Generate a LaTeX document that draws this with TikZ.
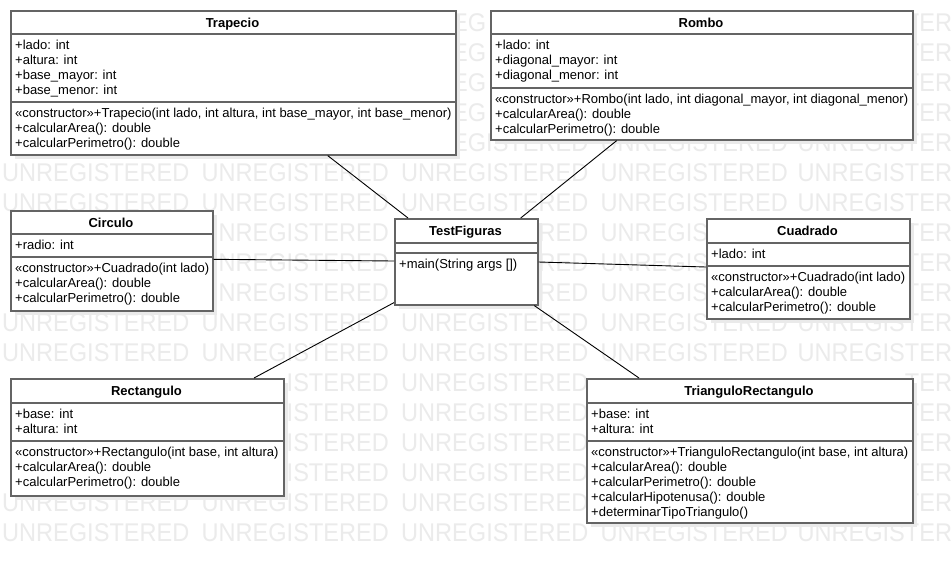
\documentclass[tikz,border=0pt]{standalone}
\usepackage{fontspec}
\setmainfont{Liberation Sans}
\newfontfamily\wmfont{Liberation Sans}[FakeStretch=0.92]
\definecolor{shadowc}{RGB}{234,234,234}
\definecolor{wmc}{RGB}{235,235,235}
\definecolor{borderc}{RGB}{100,100,100}
\tikzset{
  clsnode/.style={draw=borderc, line width=1.6pt, fill=white, rectangle, inner sep=0pt, anchor=north west},
  sepline/.style={draw=borderc, line width=1.6pt},
  clstitle/.style={font=\fontsize{13}{15}\selectfont\bfseries, anchor=base, inner sep=0pt},
  member/.style={font=\fontsize{13}{15}\selectfont, anchor=base west, inner sep=0pt},
  link/.style={draw=black, line width=0.9pt},
  wmtext/.style={font=\wmfont\fontsize{25.6}{25.6}\selectfont, text=wmc, anchor=base west, inner sep=0pt}
}
\newcommand\clsbox[8]{%
  \fill[shadowc] (#2+5,#3+5) rectangle ++(#4,#5);
  \node[clsnode, minimum width=#4pt, minimum height=#5pt] (#1) at (#2,#3) {};
  \draw[sepline] (#1.west |- 0,#7) -- (#1.east |- 0,#7);
  \draw[sepline] (#1.west |- 0,#8) -- (#1.east |- 0,#8);
  \node[clstitle] (#1-title) at (#2+#4/2,#3+17) {#6};
}
\newcommand\clsrows[4]{%
  \foreach \txt [count=\i] in {#4} {
    \node[member, name=#1\i] at (#2,{#3+15*(\i-1)}) {\txt};
  }
}
\newcommand\wmrow[2]{%
  \foreach \xx/\ww [count=\i] in {#2} {
    \node[wmtext, name=wm#1-\i] at (\xx,{31.7+30*#1}) {\ww};
  }
}
\newcommand\wmfull{2/UNREGISTERED,201.5/UNREGISTERED,401/UNREGISTERED,600.5/UNREGISTERED,797.4/UNREGISTER}
\begin{document}
\begin{tikzpicture}[x=1pt,y=-1pt]
\useasboundingbox (0,0) rectangle (952,563);
\fill[white] (0,0) rectangle (952,563);
\begin{scope}
\clip (0,0) rectangle (952,563);
\foreach \k in {0,1,2,3} {\wmrow{\k}{452/EG,904.7/TER}}
\wmrow{4}{452/EGISTERED,600.5/UNREGISTERED,797.4/UNREGISTER}
\foreach \k in {5,6,10,11,17} {\expandafter\wmrow\expandafter{\expandafter\k\expandafter}\expandafter{\wmfull}}
\foreach \k in {7,8,9} {\wmrow{\k}{218.5/NREGISTERED,538.4/RED,600.5/UNREGIS,904.7/TER}}
\foreach \k in {12,13,14,15} {\wmrow{\k}{286.5/ISTERED,401/UNREGISTERED,904.7/TER}}
\wmrow{16}{2/UNREGISTERED,201.5/UNREGISTERED,401/UNREGISTERED,904.7/TER}
\end{scope}

% Trapecio
\clsbox{trap}{10}{10}{445}{144}{Trapecio}{34}{102}
\clsrows{trapa}{15}{49}{{+lado: int},{+altura: int},{+base\_mayor: int},{+base\_menor: int}}
\clsrows{trapm}{15}{117}{{«constructor»+Trapecio(int lado, int altura, int base\_mayor, int base\_menor)},{+calcularArea(): double},{+calcularPerimetro(): double}}

% Rombo
\clsbox{rombo}{490}{10}{422}{129}{Rombo}{34}{88}
\clsrows{romboa}{495}{49}{{+lado: int},{+diagonal\_mayor: int},{+diagonal\_menor: int}}
\clsrows{rombom}{495}{103}{{«constructor»+Rombo(int lado, int diagonal\_mayor, int diagonal\_menor)},{+calcularArea(): double},{+calcularPerimetro(): double}}

% Circulo
\clsbox{circ}{10}{210}{202}{100}{Circulo}{234}{257}
\clsrows{circa}{15}{249}{{+radio: int}}
\clsrows{circm}{15}{272}{{«constructor»+Cuadrado(int lado)},{+calcularArea(): double},{+calcularPerimetro(): double}}

% TestFiguras
\clsbox{test}{394}{218}{143}{86}{TestFiguras}{243}{253}
\clsrows{testm}{399}{268}{{+main(String args [])}}

% Cuadrado
\clsbox{cuad}{706}{218}{203}{100}{Cuadrado}{243}{266}
\clsrows{cuada}{711}{258}{{+lado: int}}
\clsrows{cuadm}{711}{281}{{«constructor»+Cuadrado(int lado)},{+calcularArea(): double},{+calcularPerimetro(): double}}

% Rectangulo
\clsbox{rect}{10}{378}{273}{117}{Rectangulo}{403}{441}
\clsrows{recta}{15}{418}{{+base: int},{+altura: int}}
\clsrows{rectm}{15}{456}{{«constructor»+Rectangulo(int base, int altura)},{+calcularArea(): double},{+calcularPerimetro(): double}}

% TrianguloRectangulo
\clsbox{tri}{586}{378}{326}{144}{TrianguloRectangulo}{403}{441}
\clsrows{tria}{591}{418}{{+base: int},{+altura: int}}
\clsrows{trim}{591}{456}{{«constructor»+TrianguloRectangulo(int base, int altura)},{+calcularArea(): double},{+calcularPerimetro(): double},{+calcularHipotenusa(): double},{+determinarTipoTriangulo()}}

% connectors
\draw[link] ([xshift=317.7pt]trap.south west) -- ([xshift=14pt]test.north west);
\draw[link] ([xshift=126.7pt]rombo.south west) -- ([xshift=126.7pt]test.north west);
\draw[link] ([yshift=-49.3pt]circ.north east) -- ([yshift=-43pt]test.north west);
\draw[link] ([yshift=-44pt]test.north east) -- ([yshift=-49pt]cuad.north west);
\draw[link] ([yshift=3pt]test.south west) -- ([xshift=244pt]rect.north west);
\draw[link] ([xshift=-4.3pt]test.south east) -- ([xshift=53pt]tri.north west);
\end{tikzpicture}
\end{document}
